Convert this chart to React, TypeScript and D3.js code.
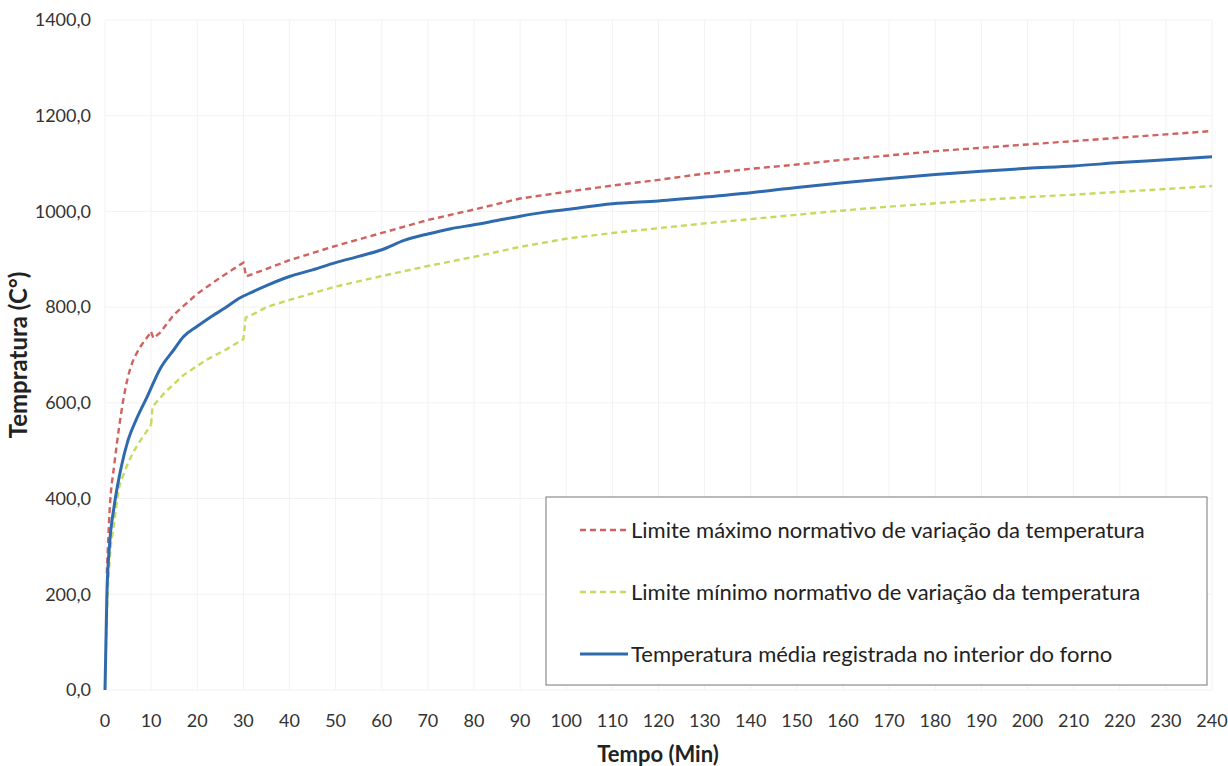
import * as d3 from 'd3';

// tempo (min) / temperatura (°C)
const maxTime = [0.4, 1, 2, 3, 4, 5, 6, 7, 8, 9, 10, 10.5, 12, 13, 15, 20, 25, 30, 30.6, 35, 40, 50, 60, 70, 80, 90, 100, 110, 120, 130, 140, 150, 160, 170, 180, 190, 200, 210, 220, 230, 240];
const maxTemp = [244, 375, 470, 545, 608, 655, 686, 706, 722, 735, 748, 735, 747, 760, 785, 828, 862, 893, 864, 880, 898, 928, 955, 982, 1004, 1027, 1041, 1054, 1066, 1079, 1089, 1098, 1108, 1117, 1126, 1133, 1140, 1147, 1154, 1161, 1168];

const minTime = [0, 0.5, 1, 2, 3, 4, 5, 6, 7, 8, 9, 10, 10.3, 13, 17, 22, 26, 30, 30.5, 32.5, 35, 40, 50, 60, 70, 80, 90, 100, 110, 120, 130, 140, 150, 160, 170, 180, 190, 200, 210, 220, 230, 240];
const minTemp = [5, 180, 270, 350, 420, 450, 474, 494, 511, 526, 540, 555, 592, 622, 658, 690, 710, 733, 778, 787, 800, 815, 843, 865, 886, 905, 926, 943, 955, 965, 975, 984, 993, 1002, 1010, 1017, 1024, 1030, 1035, 1041, 1047, 1053];

const avgTime = [0, 0.4, 1, 2, 3.5, 5, 7, 9, 12, 15, 17, 20, 23, 26, 29, 32, 35, 40, 45, 50, 55, 60, 65, 70, 75, 80, 85, 90, 95, 100, 110, 120, 130, 140, 150, 160, 170, 180, 190, 200, 210, 220, 230, 240];
const avgTemp = [0, 195, 305, 385, 465, 522, 570, 610, 672, 712, 738, 760, 780, 798, 818, 832, 845, 864, 878, 893, 906, 920, 940, 953, 964, 972, 981, 990, 998, 1004, 1016, 1022, 1030, 1039, 1050, 1060, 1069, 1077, 1084, 1090, 1095, 1102, 1108, 1114];

const xTicks = d3.range(0, 241, 10);
const yTicks = [0, 200, 400, 600, 800, 1000, 1200, 1400];

const legendLabels = [
  'Limite máximo normativo de variação da temperatura',
  'Limite mínimo normativo de variação da temperatura',
  'Temperatura média registrada no interior do forno',
];

const W = 1228, H = 766;
const font = 'Lato, "Open Sans", sans-serif';

export default function App() {
  const x = d3.scaleLinear().domain([0, 240]).range([105, 1212]);
  const y = d3.scaleLinear().domain([0, 1400]).range([690, 20]);

  const line = d3.line<[number, number]>()
    .x(d => x(d[0]))
    .y(d => y(d[1]));
  const smooth = d3.line<[number, number]>()
    .x(d => x(d[0]))
    .y(d => y(d[1]))
    .curve(d3.curveMonotoneX);

  const maxPts = maxTime.map((t, i) => [t, maxTemp[i]] as [number, number]);
  const minPts = minTime.map((t, i) => [t, minTemp[i]] as [number, number]);
  const avgPts = avgTime.map((t, i) => [t, avgTemp[i]] as [number, number]);

  const series = [
    { color: '#d0625f', dash: '6,4', width: 2.4 },
    { color: '#c4dc5e', dash: '6,4', width: 2.4 },
    { color: '#2f6aae', dash: null, width: 3 },
  ];

  return (
    <svg width={W} height={H} style={{ position: 'absolute', left: 0, top: 0, background: '#fff' }}
      fontFamily={font}>
      {/* faint grid */}
      <g stroke="#f2f2f2" strokeWidth={1}>
        {xTicks.map(t => <line key={'gx' + t} x1={x(t)} x2={x(t)} y1={y(1400)} y2={y(0)} />)}
        {yTicks.map(v => <line key={'gy' + v} x1={x(0)} x2={x(240)} y1={y(v)} y2={y(v)} />)}
      </g>

      {/* y axis labels */}
      <g fontSize={18} fill="#333" textAnchor="end">
        {yTicks.map(v => (
          <text key={v} x={91} y={y(v)} dy="0.35em">{d3.format('.1f')(v).replace('.', ',')}</text>
        ))}
      </g>
      {/* x axis labels */}
      <g fontSize={18} fill="#333" textAnchor="middle">
        {xTicks.map(t => <text key={t} x={x(t)} y={727}>{t}</text>)}
      </g>
      <text x={658} y={762} textAnchor="middle" fontSize={22} fontWeight="bold" fill="#222">Tempo (Min)</text>
      <text transform={`translate(27,355) rotate(-90)`} textAnchor="middle" fontSize={24} fontWeight="bold" fill="#222">Tempratura (C°)</text>

      {/* series */}
      <path d={smooth(maxPts.slice(0, 11)) ?? ''} fill="none" stroke={series[0].color} strokeWidth={series[0].width} strokeDasharray={series[0].dash!} />
      <path d={line(maxPts.slice(10)) ?? ''} fill="none" stroke={series[0].color} strokeWidth={series[0].width} strokeDasharray={series[0].dash!} />
      <path d={smooth(minPts.slice(0, 12)) ?? ''} fill="none" stroke={series[1].color} strokeWidth={series[1].width} strokeDasharray={series[1].dash!} />
      <path d={line(minPts.slice(11)) ?? ''} fill="none" stroke={series[1].color} strokeWidth={series[1].width} strokeDasharray={series[1].dash!} />
      <path d={smooth(avgPts) ?? ''} fill="none" stroke={series[2].color} strokeWidth={series[2].width} />

      {/* legend */}
      <g>
        <rect x={546} y={497} width={661} height={188} fill="#fff" stroke="#777" strokeWidth={1} />
        {legendLabels.map((lab, i) => {
          const ly = 530 + i * 62;
          const s = series[i];
          return (
            <g key={lab}>
              <line x1={580} x2={628} y1={ly} y2={ly} stroke={s.color} strokeWidth={s.width}
                strokeDasharray={s.dash ?? undefined} />
              <text x={631} y={ly} dy="0.35em" fontSize={22} fill="#222">{lab}</text>
            </g>
          );
        })}
      </g>
    </svg>
  );
}
